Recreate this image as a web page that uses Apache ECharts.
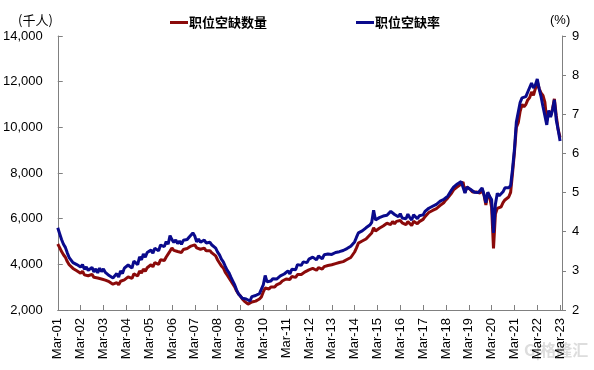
<!DOCTYPE html>
<html>
<head>
<meta charset="utf-8">
<script src="https://cdn.jsdelivr.net/npm/echarts@6/dist/echarts.min.js"></script>
<style>
html,body{margin:0;padding:0;background:#fff;}
#c{width:594px;height:370px;}
</style>
</head>
<body>
<div id="c"></div>
<script>
// Tick labels (every March)
const tickLabels = ['Mar-01','Mar-02','Mar-03','Mar-04','Mar-05','Mar-06','Mar-07','Mar-08','Mar-09','Mar-10','Mar-11','Mar-12','Mar-13','Mar-14','Mar-15','Mar-16','Mar-17','Mar-18','Mar-19','Mar-20','Mar-21','Mar-22','Mar-23'];
const monthNames = ['Mar','Apr','May','Jun','Jul','Aug','Sep','Oct','Nov','Dec','Jan','Feb'];
const seriesNames = ['职位空缺数量', '职位空缺率'];

// Job openings (thousands), monthly Mar-01 .. Mar-23
const openings = [
  4890,4730,4560,4420,4310,4120,3980,3950,3820,3760,3720,3640,
  3610,3700,3540,3600,3500,3470,3560,3430,3490,3400,3470,3360,
  3380,3310,3300,3240,3220,3130,3060,3200,3100,3260,3190,3320,
  3330,3450,3460,3380,3580,3570,3490,3710,3620,3790,3700,3850,
  3870,3980,3890,4070,4120,4000,4200,4250,4170,4320,4260,4580,
  4720,4610,4680,4560,4640,4520,4650,4700,4690,4770,4800,4740,
  4850,4720,4780,4660,4630,4710,4590,4540,4600,4500,4460,4370,
  4190,4060,3930,3840,3660,3530,3400,3270,3140,3010,2830,2700,
  2610,2480,2390,2310,2260,2220,2350,2310,2390,2440,2480,2570,
  2790,2960,2880,2920,3010,3050,3010,3100,3140,3180,3270,3310,
  3360,3420,3340,3470,3500,3430,3550,3590,3560,3640,3670,3700,
  3760,3700,3820,3790,3740,3860,3830,3790,3900,3920,3950,3960,
  3980,4000,4030,4050,4080,4090,4120,4140,4210,4220,4300,4350,
  4540,4720,4930,4980,5020,5070,5110,5200,5240,5370,5600,5460,
  5460,5580,5560,5680,5700,5800,5780,5740,5880,5780,5880,5860,
  5920,5820,5840,5740,5870,5790,5700,5880,5920,5780,5870,5920,
  5970,6090,6140,6270,6270,6360,6360,6440,6450,6580,6590,6710,
  6820,6910,6990,7120,7260,7340,7390,7430,7520,7610,7150,7390,
  7340,7260,7170,7120,7170,7170,7120,7300,7040,6600,7120,6950,
  6500,4700,6200,6450,6500,6520,6700,6820,6900,6950,7150,8000,
  8900,10000,10200,10700,11000,10900,11000,11200,11300,11550,11400,11700,
  12000,11700,11500,11400,11100,10300,10700,10500,10800,11250,10500,9900,
  9550
];

// Job openings rate (%), monthly Mar-01 .. Mar-23
const rate = [
  4.10,3.95,3.80,3.68,3.60,3.46,3.34,3.29,3.21,3.18,3.16,3.11,
  3.10,3.16,3.04,3.10,3.01,2.99,3.09,2.97,3.05,2.95,3.07,2.98,
  3.05,2.96,2.96,2.88,2.88,2.82,2.78,2.93,2.84,3.00,2.93,3.07,
  3.04,3.15,3.15,3.07,3.25,3.25,3.16,3.36,3.28,3.43,3.35,3.47,
  3.45,3.53,3.45,3.58,3.63,3.51,3.66,3.71,3.62,3.75,3.68,3.90,
  3.80,3.73,3.79,3.70,3.76,3.68,3.78,3.81,3.80,3.86,3.90,3.97,
  3.89,3.74,3.81,3.73,3.76,3.79,3.71,3.74,3.73,3.66,3.63,3.58,
  3.48,3.41,3.30,3.23,3.12,3.02,2.95,2.84,2.74,2.64,2.51,2.41,
  2.36,2.30,2.25,2.28,2.26,2.23,2.34,2.31,2.37,2.39,2.42,2.46,
  2.64,2.88,2.72,2.77,2.74,2.80,2.82,2.79,2.84,2.87,2.90,2.92,
  2.95,3.00,2.92,3.04,3.09,3.03,3.16,3.19,3.14,3.23,3.25,3.21,
  3.30,3.27,3.35,3.32,3.28,3.38,3.35,3.31,3.41,3.40,3.43,3.42,
  3.42,3.43,3.47,3.46,3.49,3.48,3.52,3.51,3.57,3.56,3.63,3.68,
  3.74,3.86,3.97,3.95,4.02,4.06,4.10,4.12,4.17,4.24,4.55,4.30,
  4.30,4.36,4.31,4.40,4.36,4.42,4.38,4.52,4.57,4.44,4.46,4.38,
  4.46,4.35,4.38,4.33,4.45,4.36,4.30,4.43,4.46,4.33,4.41,4.44,
  4.43,4.52,4.53,4.60,4.59,4.65,4.64,4.70,4.69,4.78,4.77,4.83,
  4.86,4.91,4.96,5.07,5.14,5.19,5.22,5.24,5.28,5.32,4.99,5.14,
  5.14,5.08,5.03,5.01,5.02,5.00,5.03,5.12,4.95,4.74,5.01,4.90,
  4.82,3.97,4.70,4.98,4.92,4.88,5.02,5.12,5.10,5.12,5.18,5.60,
  6.10,6.80,7.05,7.30,7.42,7.40,7.45,7.57,7.60,7.80,7.67,7.75,
  7.90,7.65,7.45,7.20,7.18,6.73,7.10,6.93,7.10,7.37,6.85,6.60,
  6.32
];

// Build monthly category list Mar-01 .. Apr-23 (one spare slot after the last point)
const categories = [];
for (let i = 0; i < openings.length + 1; i++) {
  const y = 1 + Math.floor(i / 12);
  const yy = (i % 12 >= 10) ? y + 1 : y;
  categories.push(monthNames[i % 12] + '-' + String(yy).padStart(2, '0'));
}

const numFont = 'Liberation Sans, Arial, sans-serif';
const cjkFont = 'Noto Sans CJK SC, sans-serif';
const axisGray = '#808080';

const chart = echarts.init(document.getElementById('c'), null, {renderer: 'canvas'});
chart.setOption({
  animation: false,
  backgroundColor: '#fff',
  grid: {left: 57, right: 32, top: 36, bottom: 60, containLabel: false},
  legend: {
    top: 11,
    left: 165,
    itemGap: 89,
    itemWidth: 18,
    itemHeight: 3,
    icon: 'rect',
    data: seriesNames,
    textStyle: {fontFamily: cjkFont, fontSize: 13, fontWeight: 'bold', color: '#000', padding: [0, 0, 0, -4]}
  },
  graphic: [
    {type: 'text', left: 18, top: 14, style: {text: '(千人)', font: '13px ' + cjkFont, fill: '#000'}},
    {type: 'text', left: 550, top: 14, style: {text: '(%)', font: '13px ' + numFont, fill: '#000'}},
    {type: 'text', left: 524, top: 342, style: {text: 'G|格隆汇', font: 'bold 16px ' + cjkFont, fill: '#dddddd'}}
  ],
  xAxis: {
    type: 'category',
    data: categories,
    boundaryGap: false,
    axisLine: {show: true, lineStyle: {color: axisGray, width: 1}},
    axisTick: {show: true, inside: true, length: 5, interval: (i) => i % 12 === 0, lineStyle: {color: axisGray}},
    axisLabel: {
      interval: (i) => i % 12 === 0,
      rotate: 90,
      margin: 8,
      fontSize: 13,
      fontFamily: numFont,
      color: '#000'
    },
    splitLine: {show: false}
  },
  yAxis: [
    {
      type: 'value', min: 2000, max: 14000, interval: 2000,
      axisLine: {show: true, lineStyle: {color: axisGray}},
      axisTick: {show: true, inside: true, length: 5, lineStyle: {color: axisGray}},
      axisLabel: {margin: 15, fontSize: 13, fontFamily: numFont, color: '#000',
        formatter: (v) => v.toLocaleString('en-US')},
      splitLine: {show: false}
    },
    {
      type: 'value', min: 2, max: 9, interval: 1, position: 'right',
      axisLine: {show: true, lineStyle: {color: axisGray}},
      axisTick: {show: true, inside: false, length: 4, lineStyle: {color: axisGray}},
      axisLabel: {margin: 10, fontSize: 13, fontFamily: numFont, color: '#000'},
      splitLine: {show: false}
    }
  ],
  series: [
    {
      name: seriesNames[0], type: 'line', yAxisIndex: 0, data: openings,
      showSymbol: false, symbol: 'none',
      lineStyle: {width: 3, color: '#8B0A0A'}, itemStyle: {color: '#8B0A0A'}
    },
    {
      name: seriesNames[1], type: 'line', yAxisIndex: 1, data: rate,
      showSymbol: false, symbol: 'none',
      lineStyle: {width: 3, color: '#0A0A8C'}, itemStyle: {color: '#0A0A8C'}
    }
  ]
});
</script>
</body>
</html>
